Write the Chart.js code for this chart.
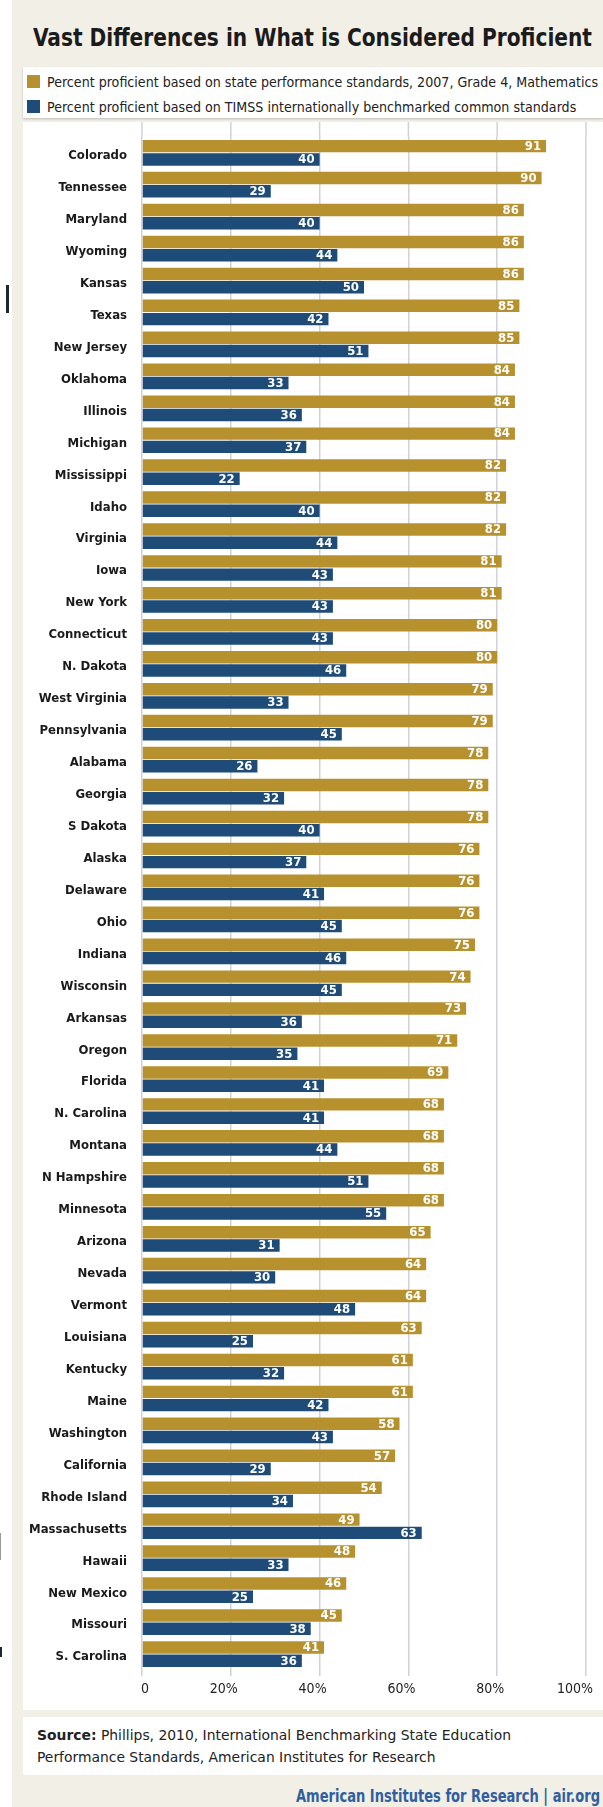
<!DOCTYPE html>
<html>
<head>
<meta charset="utf-8">
<script src="https://cdn.jsdelivr.net/npm/chart.js@4.4.1/dist/chart.umd.min.js"></script>
<style>
  html, body { margin: 0; padding: 0; background: #fff; }
  #page { position: relative; width: 603px; height: 1807px; overflow: hidden; background: #fff; }
  #beige { position: absolute; left: 12px; top: 0; width: 591px; height: 1807px; background: #f2efe7; }
  .box { position: absolute; left: 23px; width: 580px; background: #fff; }
  #legendBox { top: 67px; height: 51px; box-shadow: 0 1px 2px rgba(0,0,0,0.22); }
  #chartBox { top: 122px; height: 1588px; }
  #footBox { top: 1717px; height: 58px; }
  .fit { position: absolute; white-space: nowrap; transform-origin: 0 50%; font-family: 'DejaVu Sans Condensed', 'DejaVu Sans', sans-serif; }
  #title { left: 33px; top: 23px; font-size: 25px; line-height: 30px; font-weight: bold; color: #1b1b1b; }
  .legText { left: 47px; font-size: 13.5px; line-height: 16px; color: #222; }
  .swatch { position: absolute; left: 27px; width: 13px; height: 13px; }
  .foot { left: 37px; font-size: 14px; line-height: 22px; color: #222; }
  #brand { top: 1786px; font-size: 17px; line-height: 20px; font-weight: bold; color: #2f5f9e; }
  .mark { position: absolute; }
</style>
</head>
<body>
<div id="page">
  <div id="beige"></div>
  <div class="mark" style="left:6px;top:285px;width:3px;height:28px;background:#1c2833"></div>
  <div class="mark" style="left:0;top:1533px;width:1px;height:27px;background:#9a9a9a"></div>
  <div class="mark" style="left:0;top:1647px;width:2px;height:10px;background:#1c2833"></div>
  <div id="title" class="fit">Vast Differences in What is Considered Proficient</div>
  <div id="legendBox" class="box"></div>
  <div id="chartBox" class="box"><canvas id="chart" width="580" height="1588"></canvas></div>
  <div id="footBox" class="box"></div>
  <div id="foot1" class="fit foot" style="top:1724px"><b>Source:</b> Phillips, 2010, International Benchmarking State Education</div>
  <div id="foot2" class="fit foot" style="top:1746px">Performance Standards, American Institutes for Research</div>
  <div id="brand" class="fit">American Institutes for Research | air.org</div>
</div>
<script>
// states, top to bottom as in the figure
const states = [
  'Colorado', 'Tennessee', 'Maryland', 'Wyoming', 'Kansas', 'Texas', 'New Jersey', 'Oklahoma',
  'Illinois', 'Michigan', 'Mississippi', 'Idaho', 'Virginia', 'Iowa', 'New York', 'Connecticut',
  'N. Dakota', 'West Virginia', 'Pennsylvania', 'Alabama', 'Georgia', 'S Dakota', 'Alaska', 'Delaware',
  'Ohio', 'Indiana', 'Wisconsin', 'Arkansas', 'Oregon', 'Florida', 'N. Carolina', 'Montana',
  'N Hampshire', 'Minnesota', 'Arizona', 'Nevada', 'Vermont', 'Louisiana', 'Kentucky', 'Maine',
  'Washington', 'California', 'Rhode Island', 'Massachusetts', 'Hawaii', 'New Mexico', 'Missouri', 'S. Carolina'
];
const stateStandard = [
  91, 90, 86, 86, 86, 85, 85, 84,
  84, 84, 82, 82, 82, 81, 81, 80,
  80, 79, 79, 78, 78, 78, 76, 76,
  76, 75, 74, 73, 71, 69, 68, 68,
  68, 68, 65, 64, 64, 63, 61, 61,
  58, 57, 54, 49, 48, 46, 45, 41
];
const timssStandard = [
  40, 29, 40, 44, 50, 42, 51, 33,
  36, 37, 22, 40, 44, 43, 43, 43,
  46, 33, 45, 26, 32, 40, 37, 41,
  45, 46, 45, 36, 35, 41, 41, 44,
  51, 55, 31, 30, 48, 25, 32, 42,
  43, 29, 34, 63, 33, 25, 38, 36
];
const seriesNames = [
  'Percent proficient based on state performance standards, 2007, Grade 4, Mathematics',
  'Percent proficient based on TIMSS internationally benchmarked common standards'
];
const seriesColors = ['#b8912f', '#1e4b78'];
const xTicks = [0, 20, 40, 60, 80, 100];
const xTickLabels = ['0', '20%', '40%', '60%', '80%', '100%'];

const FONT = "'DejaVu Sans Condensed', 'DejaVu Sans', sans-serif";
const GRID = '#cfd2d6';

// legend (html, beside the canvas)
const page = document.getElementById('page');
seriesNames.forEach((name, i) => {
  const sw = document.createElement('div');
  sw.className = 'swatch';
  sw.style.top = (75 + i * 25) + 'px';
  sw.style.background = seriesColors[i];
  page.appendChild(sw);
  const t = document.createElement('div');
  t.className = 'fit legText';
  t.id = 'leg' + i;
  t.style.top = (74 + i * 24.5) + 'px';
  t.textContent = name;
  page.appendChild(t);
});

function fitWidth(ids, target, rightEdge) {
  const first = document.getElementById(ids[0]);
  const s = target / first.getBoundingClientRect().width;
  ids.forEach(id => {
    const el = document.getElementById(id);
    el.style.transform = 'scaleX(' + s + ')';
    if (rightEdge) el.style.left = (rightEdge - target) + 'px';
  });
}
fitWidth(['title'], 559);
fitWidth(['leg0', 'leg1'], 551);
fitWidth(['foot1', 'foot2'], 474);
fitWidth(['brand'], 304, 600);

// grid lines run up past the first bar to the top of the white box
const gridTop = {
  id: 'gridTop',
  beforeDatasetsDraw(chart) {
    const ctx = chart.ctx;
    const x = chart.scales.x;
    ctx.save();
    ctx.strokeStyle = GRID;
    ctx.lineWidth = 1.5;
    xTicks.forEach(v => {
      const px = x.getPixelForValue(v);
      ctx.beginPath();
      ctx.moveTo(px, 0);
      ctx.lineTo(px, chart.chartArea.top);
      ctx.stroke();
    });
    ctx.restore();
  }
};

// white numbers at the end of each bar
const valueLabels = {
  id: 'valueLabels',
  afterDatasetsDraw(chart) {
    const ctx = chart.ctx;
    ctx.save();
    ctx.fillStyle = '#ffffff';
    ctx.font = 'bold 13px ' + FONT;
    ctx.textAlign = 'right';
    ctx.textBaseline = 'middle';
    chart.data.datasets.forEach((ds, i) => {
      chart.getDatasetMeta(i).data.forEach((el, j) => {
        ctx.fillText(String(ds.data[j]), el.x - 5, el.y + 0.5);
      });
    });
    ctx.restore();
  }
};

const chart = new Chart(document.getElementById('chart'), {
  type: 'bar',
  data: {
    labels: states,
    datasets: [
      { label: seriesNames[0], data: stateStandard, backgroundColor: seriesColors[0] },
      { label: seriesNames[1], data: timssStandard, backgroundColor: seriesColors[1] }
    ]
  },
  options: {
    indexAxis: 'y',
    responsive: false,
    animation: false,
    layout: { padding: { top: 10, right: 17, left: 0, bottom: 0 } },
    datasets: { bar: { categoryPercentage: 0.83, barPercentage: 0.94 } },
    plugins: {
      legend: { display: false },
      tooltip: { enabled: false }
    },
    scales: {
      x: {
        min: 0,
        max: 100,
        afterFit: s => { s.height = 40; },
        grid: { color: GRID, lineWidth: 1.5, drawTicks: true, tickLength: 6 },
        border: { display: false },
        ticks: {
          stepSize: 20,
          align: 'end',
          labelOffset: 7,
          padding: 5,
          color: '#222',
          font: { family: FONT, size: 14 },
          callback: v => xTickLabels[xTicks.indexOf(v)]
        }
      },
      y: {
        afterFit: s => { s.width = 119; },
        grid: { display: false },
        border: { display: false },
        ticks: {
          autoSkip: false,
          padding: 7,
          labelOffset: 3,
          color: '#1a1a1a',
          font: { family: FONT, size: 13, weight: 'bold' }
        }
      }
    }
  },
  plugins: [gridTop, valueLabels]
});
</script>
</body>
</html>
